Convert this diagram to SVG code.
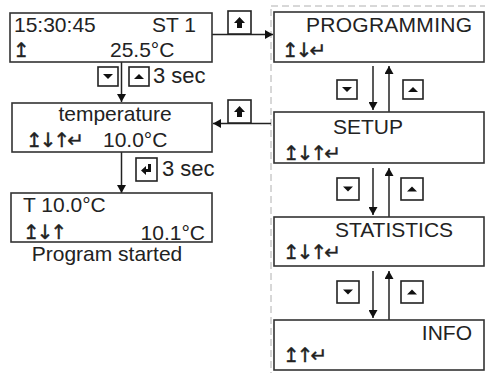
<svg xmlns="http://www.w3.org/2000/svg" width="485" height="373" viewBox="0 0 485 373">
<style>
.box{fill:#fff;stroke:#333;stroke-width:1.6}
.t{font-family:"Liberation Sans",Arial,sans-serif;font-size:21px;fill:#222}
.s{font-size:22px}
.ic{font-family:"DejaVu Sans",sans-serif;font-size:20px;fill:#222;stroke:#222;stroke-width:0.4;letter-spacing:-3px}
.ln{stroke:#222;stroke-width:1.5;fill:none}
.btn{fill:#fff;stroke:#222;stroke-width:1.6}
.dash{fill:none;stroke:#b0b0b0;stroke-width:1;stroke-dasharray:7 4}
</style>
<defs>
<marker id="ah" markerWidth="8" markerHeight="9" refX="8" refY="4.5" orient="auto" markerUnits="userSpaceOnUse">
<path d="M0,0 L8,4.5 L0,9 Z" fill="#111"/>
</marker>
<g id="bdown"><rect class="btn" x="0" y="0" width="20" height="19"/><path d="M5,7 L15,7 L10,12 Z" fill="#111"/></g>
<g id="bup"><rect class="btn" x="0" y="0" width="20" height="19"/><path d="M5,12 L15,12 L10,7 Z" fill="#111"/></g>
<g id="bdown2"><rect class="btn" x="0" y="0" width="22" height="22"/><path d="M6,8.5 L16,8.5 L11,13.5 Z" fill="#111"/></g>
<g id="bup2"><rect class="btn" x="0" y="0" width="22" height="22"/><path d="M6,13.5 L16,13.5 L11,8.5 Z" fill="#111"/></g>
<g id="bhome"><rect class="btn" x="0" y="0" width="23" height="23"/><path d="M11.5,6 L17,12 L14,12 L14,17 L9,17 L9,12 L6,12 Z" fill="#111"/></g>
<g id="benter"><rect class="btn" x="0" y="0" width="21" height="23"/><path d="M15,6 L15,14 L10,14 L10,17 L5,12.5 L10,8 L10,11 L12,11 L12,6 Z" fill="#111"/></g>
</defs>

<rect class="dash" x="271" y="6" width="230" height="380"/>

<g id="connectors">
<line class="ln" x1="121.5" y1="62" x2="121.5" y2="102" marker-end="url(#ah)"/>
<line class="ln" x1="121.5" y1="152" x2="121.5" y2="193" marker-end="url(#ah)"/>
<line class="ln" x1="212" y1="34.5" x2="273" y2="34.5" marker-end="url(#ah)"/>
<line class="ln" x1="271" y1="123.5" x2="213" y2="123.5" marker-end="url(#ah)"/>
<line class="ln" x1="373" y1="66" x2="373" y2="110" marker-end="url(#ah)"/>
<line class="ln" x1="389" y1="112" x2="389" y2="66" marker-end="url(#ah)"/>
<line class="ln" x1="373" y1="168" x2="373" y2="215" marker-end="url(#ah)"/>
<line class="ln" x1="389" y1="217" x2="389" y2="168" marker-end="url(#ah)"/>
<line class="ln" x1="373" y1="271" x2="373" y2="318" marker-end="url(#ah)"/>
<line class="ln" x1="389" y1="320" x2="389" y2="271" marker-end="url(#ah)"/>
<use href="#bdown" x="98" y="67"/>
<use href="#bup" x="129" y="67"/>
<text class="t s" x="153" y="83">3 sec</text>
<use href="#bhome" x="228" y="11"/>
<use href="#bhome" x="228" y="100"/>
<use href="#benter" x="136" y="158"/>
<text class="t s" x="162" y="176">3 sec</text>
<use href="#bdown" x="337" y="80"/>
<use href="#bup" x="403" y="80"/>
<use href="#bdown2" x="337" y="178"/>
<use href="#bup2" x="401" y="178"/>
<use href="#bdown2" x="337" y="281"/>
<use href="#bup2" x="401" y="281"/>
</g>

<g id="main">
<rect class="box" x="10" y="13" width="202" height="49"/>
<text class="t" x="14" y="32">15:30:45</text>
<text class="t" x="196" y="32" text-anchor="end">ST 1</text>
<text class="ic" x="13" y="57">↥</text>
<text class="t" x="110" y="57">25.5°C</text>
</g>

<g id="temperature">
<rect class="box" x="12" y="103" width="200" height="49"/>
<text class="t" x="115" y="121" text-anchor="middle">temperature</text>
<text class="ic" x="26" y="147">↥↓↑↵</text>
<text class="t" x="103" y="147">10.0°C</text>
</g>

<g id="program">
<rect class="box" x="11" y="193" width="201" height="49"/>
<text class="t" x="23" y="212">T 10.0°C</text>
<text class="ic" x="23" y="239">↥↓↑</text>
<text class="t" x="205" y="240" text-anchor="end">10.1°C</text>
<text class="t" x="107" y="261" text-anchor="middle">Program started</text>
</g>

<g id="programming">
<rect class="box" x="274" y="12" width="210" height="50"/>
<text class="t" x="389" y="32" text-anchor="middle" textLength="166">PROGRAMMING</text>
<text class="ic" x="282" y="57">↥↓↵</text>
</g>

<g id="setup">
<rect class="box" x="274" y="112" width="210" height="51"/>
<text class="t" x="368" y="134" text-anchor="middle">SETUP</text>
<text class="ic" x="283" y="160">↥↓↑↵</text>
</g>

<g id="statistics">
<rect class="box" x="274" y="217" width="210" height="49"/>
<text class="t" x="394" y="237" text-anchor="middle">STATISTICS</text>
<text class="ic" x="283" y="259">↥↓↑↵</text>
</g>

<g id="info">
<rect class="box" x="274" y="320" width="210" height="50"/>
<text class="t" x="472" y="340" text-anchor="end">INFO</text>
<text class="ic" x="283" y="362">↥↑↵</text>
</g>
</svg>
